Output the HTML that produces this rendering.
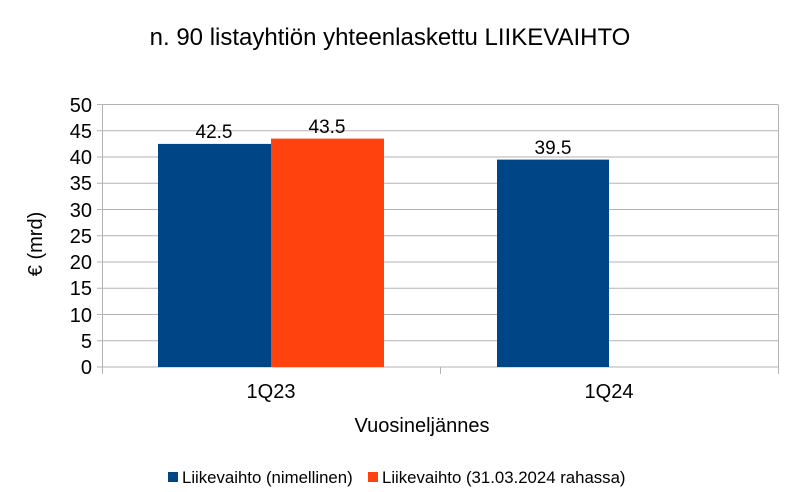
<!DOCTYPE html>
<html><head><meta charset="utf-8"><style>body{margin:0;background:#fff}svg{display:block}</style></head>
<body>
<svg width="795" height="492" xmlns="http://www.w3.org/2000/svg" font-family="Liberation Sans, sans-serif">
<rect width="795" height="492" fill="#fff"/>
<text x="390" y="45" font-size="24" text-anchor="middle" fill="#000">n. 90 listayhtiön yhteenlaskettu LIIKEVAIHTO</text>
<g stroke="#b3b3b3" stroke-width="1">
<line x1="97" y1="104.5" x2="778" y2="104.5"/>
<line x1="97" y1="130.75" x2="778" y2="130.75"/>
<line x1="97" y1="157" x2="778" y2="157"/>
<line x1="97" y1="183.25" x2="778" y2="183.25"/>
<line x1="97" y1="209.5" x2="778" y2="209.5"/>
<line x1="97" y1="235.75" x2="778" y2="235.75"/>
<line x1="97" y1="262" x2="778" y2="262"/>
<line x1="97" y1="288.25" x2="778" y2="288.25"/>
<line x1="97" y1="314.5" x2="778" y2="314.5"/>
<line x1="97" y1="340.75" x2="778" y2="340.75"/>
<line x1="97" y1="367" x2="778" y2="367"/>
<line x1="102.5" y1="104.5" x2="102.5" y2="374"/>
<line x1="440.5" y1="367" x2="440.5" y2="374"/>
<line x1="778.5" y1="104.5" x2="778.5" y2="374"/>
</g>
<rect x="158" y="143.9" width="113" height="223.1" fill="#004586"/>
<rect x="271" y="138.6" width="113" height="228.4" fill="#ff420e"/>
<rect x="497" y="159.6" width="112" height="207.4" fill="#004586"/>
<g font-size="19" text-anchor="middle" fill="#000">
<text x="214" y="138">42.5</text>
<text x="327" y="133">43.5</text>
<text x="553" y="154">39.5</text>
</g>
<g font-size="20" text-anchor="middle" fill="#000">
<text x="271" y="398">1Q23</text>
<text x="609" y="398">1Q24</text>
<text x="422" y="432">Vuosineljännes</text>
</g>
<g font-size="20" text-anchor="end" fill="#000">
<text x="92" y="112">50</text><text x="92" y="138">45</text><text x="92" y="164">40</text>
<text x="92" y="190">35</text><text x="92" y="217">30</text><text x="92" y="243">25</text>
<text x="92" y="269">20</text><text x="92" y="295">15</text><text x="92" y="322">10</text>
<text x="92" y="348">5</text><text x="92" y="374">0</text>
</g>
<text transform="translate(42,244) rotate(-90)" font-size="20" text-anchor="middle">€ (mrd)</text>
<rect x="168" y="472" width="10" height="10" fill="#004586"/>
<text x="182" y="483" font-size="16.8">Liikevaihto (nimellinen)</text>
<rect x="368" y="472" width="10" height="10" fill="#ff420e"/>
<text x="382" y="483" font-size="16.8">Liikevaihto (31.03.2024 rahassa)</text>
</svg>
</body></html>
